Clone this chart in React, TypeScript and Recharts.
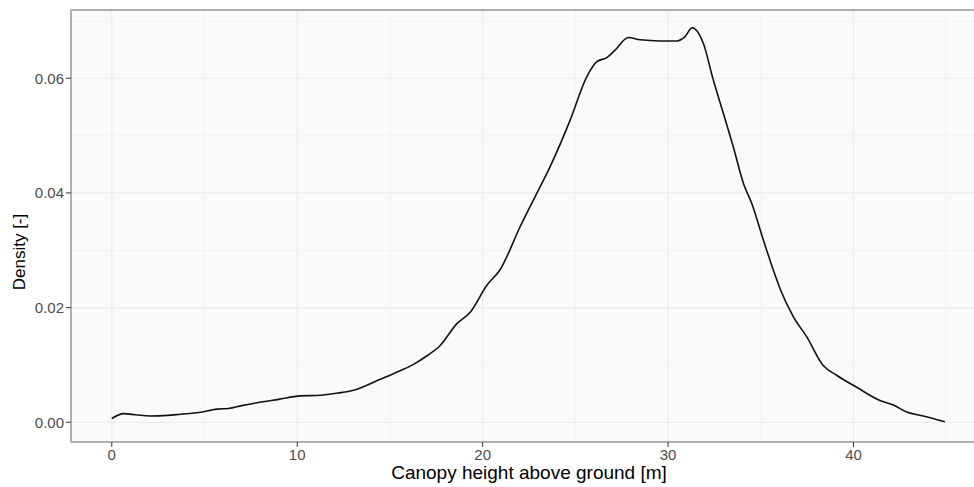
import { LineChart, Line, XAxis, YAxis, CartesianGrid, ReferenceLine } from 'recharts';

// canopy height [m] and estimated kernel density
const heights = [
  0, 0.64, 1.3, 2.07, 3.0, 3.7, 4.7, 5.67, 6.3, 7.0, 7.83, 9.0, 10.16, 11.24, 12.2, 13.04,
  14.47, 15.55, 16.27, 17.0, 17.71, 18.61, 19.33, 20.23, 20.94, 22.02, 22.9, 23.64, 24.72,
  25.62, 26.16, 26.7, 27.14, 27.86, 28.5, 29.57, 30.47, 30.9, 31.3, 31.9, 32.44, 32.98,
  33.52, 34.06, 34.51, 35.14, 35.68, 36.04, 36.76, 37.48, 38.37, 39.09, 40.17, 41.43,
  42.15, 42.87, 43.76, 44.93,
];
const density = [
  0.00065, 0.0015, 0.0013, 0.0011, 0.0012, 0.0014, 0.0017, 0.0023, 0.0024, 0.0029, 0.0034,
  0.004, 0.0046, 0.0047, 0.0051, 0.0056, 0.0075, 0.009, 0.0101, 0.0116, 0.0134, 0.0172,
  0.0192, 0.0239, 0.0266, 0.0341, 0.0398, 0.0446, 0.0527, 0.0603, 0.0629, 0.0636, 0.0649,
  0.0671, 0.0667, 0.0665, 0.0665, 0.0672, 0.0688, 0.0661, 0.0597, 0.0539, 0.048, 0.0417,
  0.0382, 0.0318, 0.0265, 0.0233, 0.0184, 0.0149, 0.0099, 0.0082, 0.0061, 0.0038, 0.003,
  0.0018, 0.0011, 0.0001,
];

const xTicks = [0, 10, 20, 30, 40];
const xMinor = [5, 15, 25, 35, 45];
const yTicks = [0, 0.02, 0.04, 0.06];
const yMinor = [0.01, 0.03, 0.05, 0.07];

const X_DOMAIN: [number, number] = [-2.2, 47.2];
const Y_DOMAIN: [number, number] = [-0.00344, 0.0719];

const data = heights.map((h, i) => ({ h, d: density[i] }));

const font = '"Liberation Sans", Arial, Helvetica, sans-serif';
const tickStyle = { fill: '#4d4d4d', fontSize: 15, fontFamily: font };
const border = '#999';

// axis titles placed where ggplot put them in the reference
const XTitle = () => (
  <text x={529} y={472} textAnchor="middle" dominantBaseline="central" fill="#000" fontSize={19} fontFamily={font}>
    Canopy height above ground [m]
  </text>
);
const YTitle = () => (
  <text
    x={19}
    y={252}
    transform="rotate(-90, 19, 252)"
    textAnchor="middle"
    dominantBaseline="central"
    fill="#000"
    fontSize={17}
    fontFamily={font}
  >
    Density [-]
  </text>
);

export default function App() {
  return (
    <div style={{ position: 'absolute', left: 0, top: 0, width: 974, height: 487, overflow: 'hidden', background: '#fff' }}>
      <LineChart width={1040} height={487} data={data} margin={{ top: 10, right: 53, bottom: 0, left: 0 }}>
        <CartesianGrid stroke="#ebebeb" strokeWidth={1.2} fill="#fafafa" />
        {xMinor.map(v => (
          <ReferenceLine key={'x' + v} x={v} stroke="#f0f0f0" strokeWidth={0.8} />
        ))}
        {yMinor.map(v => (
          <ReferenceLine key={'y' + v} y={v} stroke="#f0f0f0" strokeWidth={0.8} />
        ))}
        <ReferenceLine y={Y_DOMAIN[1]} stroke={border} strokeWidth={1.5} ifOverflow="visible" />
        <XAxis
          type="number"
          dataKey="h"
          domain={X_DOMAIN}
          ticks={xTicks}
          allowDataOverflow
          height={45}
          axisLine={{ stroke: border, strokeWidth: 1.5 }}
          tickLine={{ stroke: '#333' }}
          tickSize={5}
          tickMargin={2}
          tick={tickStyle}
          label={<XTitle />}
        />
        <YAxis
          type="number"
          domain={Y_DOMAIN}
          ticks={yTicks}
          allowDataOverflow
          width={71}
          axisLine={{ stroke: border, strokeWidth: 1.5 }}
          tickLine={{ stroke: '#333' }}
          tickSize={5}
          tickMargin={2}
          tick={tickStyle}
          tickFormatter={(v: number) => v.toFixed(2)}
          label={<YTitle />}
        />
        <Line type="monotone" dataKey="d" stroke="#111" strokeWidth={1.6} dot={false} isAnimationActive={false} />
      </LineChart>
    </div>
  );
}
